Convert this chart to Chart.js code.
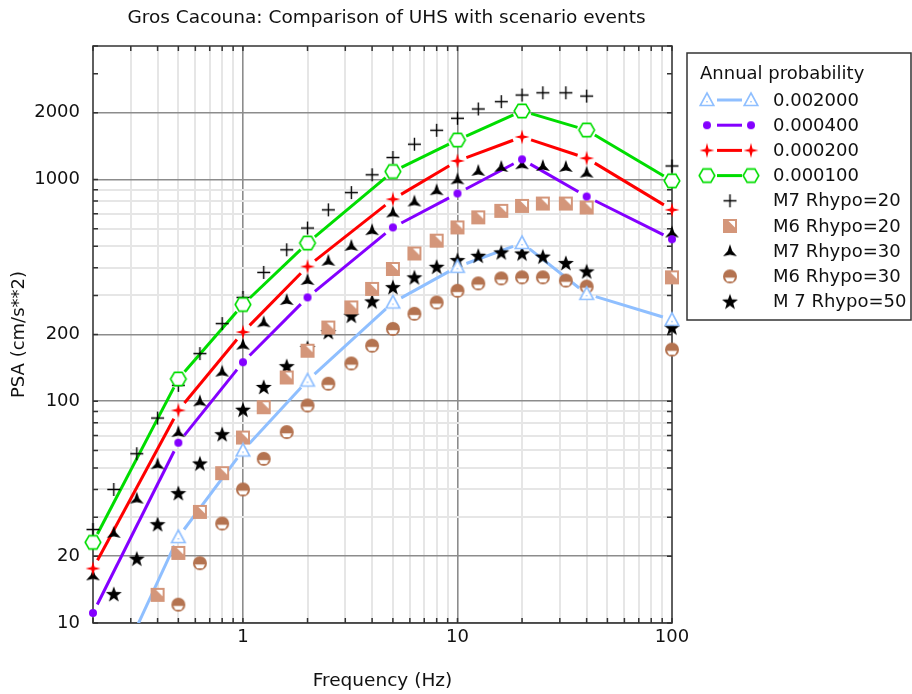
<!DOCTYPE html>
<html>
<head>
<meta charset="utf-8">
<script src="https://cdn.jsdelivr.net/npm/chart.js@4.4.0/dist/chart.umd.min.js"></script>
<style>
  body { margin: 0; background: #fff; }
  #wrap { width: 912px; height: 694px; position: relative; }
</style>
</head>
<body>
<div id="wrap"><canvas id="chart"></canvas></div>
<script>
// UHS curves (annual probability), PSA in cm/s**2
const UHS_FREQ = [0.2, 0.5, 1, 2, 5, 10, 20, 40, 100];
const UHS_002000 = [3.6, 24.4, 60, 124, 279, 404, 517, 305, 233];
const UHS_000400 = [11.1, 65, 150, 294, 608, 865, 1233, 838, 538];
const UHS_000200 = [17.6, 91, 205, 405, 815, 1213, 1556, 1247, 730];
const UHS_000100 = [23.1, 126, 273, 517, 1086, 1507, 2037, 1671, 986];

// scenario events
const SCEN_FREQ = [0.2, 0.25, 0.32, 0.4, 0.5, 0.63, 0.8, 1, 1.25, 1.6, 2, 2.5, 3.2, 4, 5, 6.3, 8, 10, 12.5, 16, 20, 25, 32, 40, 100];
const M7_R20 = [26.4, 40, 58, 84, 118, 164, 224, 294, 381, 482, 604, 730, 873, 1050, 1256, 1443, 1667, 1888, 2080, 2244, 2404, 2461, 2461, 2377, 1151];
const M6_R20 = [null, null, null, 13.4, 20.7, 31.7, 47.4, 68.6, 94, 128, 169, 215, 265, 321, 395, 464, 530, 608, 675, 722, 760, 779, 779, 748, 362];
const M7_R30 = [16.4, 25.5, 36.4, 52, 72.6, 100, 136, 180, 227, 286, 352, 430, 502, 591, 710, 796, 895, 1002, 1094, 1140, 1172, 1151, 1140, 1074, 577];
const M6_R30 = [null, null, null, null, 12.1, 18.6, 28.1, 40, 55, 72.6, 95.7, 120, 148, 178, 212, 248, 279, 315, 340, 358, 362, 362, 350, 329, 171];
const M7_R50 = [null, 13.5, 19.5, 27.9, 38.5, 52.4, 71, 91.6, 116, 144, 174, 205, 243, 282, 327, 362, 404, 433, 453, 469, 464, 449, 420, 385, 215];

// axes
const X_GRID = [0.2, 0.3, 0.4, 0.5, 0.6, 0.7, 0.8, 0.9, 1, 2, 3, 4, 5, 6, 7, 8, 9, 10, 20, 30, 40, 50, 60, 70, 80, 90, 100];
const X_LABELS = [1, 10, 100];
const X_MAJOR = [1, 10];
const Y_GRID = [10, 20, 30, 40, 50, 60, 70, 80, 90, 100, 200, 300, 400, 500, 600, 700, 800, 900, 1000, 2000, 3000, 4000];
const Y_LABELS = [10, 20, 100, 200, 1000, 2000];
const Y_NOLINE = [3000, 4000];

const TITLE = 'Gros Cacouna: Comparison of UHS with scenario events';
const LEGEND_TITLE = 'Annual probability';
const FONT_FAMILY = '"DejaVu Sans", sans-serif';
const FONT_SIZE = 18;

const has = (arr, v) => arr.some(a => Math.abs(a - v) / a < 1e-6);
const pts = (xs, ys) => xs.map((x, i) => ({x: x, y: ys[i]})).filter(p => p.y !== null);

// ---- marker images ----
function marker(w, h, draw) {
    const c = document.createElement('canvas');
    c.width = w; c.height = h;
    const g = c.getContext('2d');
    g.translate(w / 2, h / 2);
    draw(g);
    return c;
}
function starPath(g, n, ro, ri) {
    g.beginPath();
    for (let k = 0; k < n * 2; k++) {
        const r = k % 2 ? ri : ro;
        const a = -Math.PI / 2 + k * Math.PI / n;
        const x = r * Math.cos(a), y = r * Math.sin(a);
        k ? g.lineTo(x, y) : g.moveTo(x, y);
    }
    g.closePath();
}

const mkTriangle = marker(18, 18, g => {
    g.strokeStyle = '#8fbfff'; g.lineWidth = 1.6; g.fillStyle = '#fff';
    g.beginPath(); g.moveTo(0, -7); g.lineTo(6.8, 5.5); g.lineTo(-6.8, 5.5); g.closePath();
    g.fill(); g.stroke();
    g.fillStyle = '#8fbfff'; g.fillRect(-0.7, 1, 1.4, 1.4);
});
const mkDot = marker(12, 12, g => {
    g.fillStyle = '#8400ff';
    g.beginPath(); g.arc(0, 0, 4, 0, Math.PI * 2); g.fill();
});
const mkRedStar = marker(18, 18, g => {
    g.fillStyle = '#ff0000';
    starPath(g, 4, 7.5, 2.2);
    g.fill();
});
const mkHex = marker(20, 18, g => {
    g.strokeStyle = '#00dd00'; g.lineWidth = 1.6; g.fillStyle = '#fff';
    g.beginPath();
    g.moveTo(-7.8, 0); g.lineTo(-3.9, -6.6); g.lineTo(3.9, -6.6); g.lineTo(7.8, 0); g.lineTo(3.9, 6.6); g.lineTo(-3.9, 6.6);
    g.closePath(); g.fill(); g.stroke();
});
const mkPlus = marker(15, 15, g => {
    g.strokeStyle = '#000'; g.lineWidth = 1.4;
    g.beginPath(); g.moveTo(-6.5, 0); g.lineTo(6.5, 0); g.moveTo(0, -6.5); g.lineTo(0, 6.5); g.stroke();
});
const mkHalfSquare = marker(16, 16, g => {
    g.fillStyle = '#d4967a';
    g.fillRect(-7, -7, 14, 14);
    g.fillStyle = '#fff';
    g.beginPath(); g.moveTo(-1.5, -5); g.lineTo(5, -5); g.lineTo(5, 1.5); g.closePath(); g.fill();
});
const mkTri = marker(18, 18, g => {
    g.fillStyle = '#000';
    g.translate(0, 1);
    starPath(g, 3, 8, 2.6);
    g.fill();
});
const mkHelmet = marker(16, 16, g => {
    g.fillStyle = '#b47350';
    g.beginPath(); g.arc(0, 0, 7, 0, Math.PI * 2); g.fill();
    g.fillStyle = '#fff';
    g.beginPath(); g.moveTo(-5, 1.2); g.lineTo(5, 1.2); g.lineTo(3, 5); g.lineTo(-3, 5); g.closePath(); g.fill();
});
const mkStar = marker(20, 20, g => {
    g.fillStyle = '#000';
    g.translate(0, 0.6);
    starPath(g, 5, 8.4, 3.4);
    g.fill();
});

function uhsSet(label, ys, color, style) {
    return { label: label, data: pts(UHS_FREQ, ys), gapColor: color, pointStyle: style };
}
function scenSet(label, ys, style) {
    return { label: label, data: pts(SCEN_FREQ, ys), pointStyle: style };
}

const datasets = [
    uhsSet('0.002000', UHS_002000, '#8fbfff', mkTriangle),
    uhsSet('0.000400', UHS_000400, '#8400ff', mkDot),
    uhsSet('0.000200', UHS_000200, '#ff0000', mkRedStar),
    uhsSet('0.000100', UHS_000100, '#00dd00', mkHex),
    scenSet('M7 Rhypo=20', M7_R20, mkPlus),
    scenSet('M6 Rhypo=20', M6_R20, mkHalfSquare),
    scenSet('M7 Rhypo=30', M7_R30, mkTri),
    scenSet('M6 Rhypo=30', M6_R30, mkHelmet),
    scenSet('M 7 Rhypo=50', M7_R50, mkStar)
];

// frame round the plot with small inward ticks
const framePlugin = {
    id: 'frame',
    beforeDatasetsDraw(chart) {
        const {ctx, chartArea: a, scales} = chart;
        ctx.save();
        ctx.strokeStyle = '#333';
        ctx.lineWidth = 1.5;
        ctx.beginPath();
        Y_GRID.forEach(v => {
            const y = scales.y.getPixelForValue(v);
            ctx.moveTo(a.left, y); ctx.lineTo(a.left + 5, y);
            ctx.moveTo(a.right, y); ctx.lineTo(a.right - 5, y);
        });
        X_GRID.forEach(v => {
            const x = scales.x.getPixelForValue(v);
            ctx.moveTo(x, a.top); ctx.lineTo(x, a.top + 5);
            ctx.moveTo(x, a.bottom); ctx.lineTo(x, a.bottom - 5);
        });
        ctx.stroke();
        ctx.strokeRect(a.left, a.top, a.right - a.left, a.bottom - a.top);
        ctx.restore();
    }
};

// UHS lines with gaps around the markers
const GAP = 9.5;
const gapLinePlugin = {
    id: 'gapLines',
    beforeDatasetsDraw(chart) {
        const {ctx, chartArea: a} = chart;
        ctx.save();
        ctx.beginPath();
        ctx.rect(a.left, a.top, a.right - a.left, a.bottom - a.top);
        ctx.clip();
        chart.data.datasets.forEach((ds, i) => {
            if (!ds.gapColor) return;
            const p = chart.getDatasetMeta(i).data;
            ctx.strokeStyle = ds.gapColor;
            ctx.lineWidth = 3;
            for (let k = 1; k < p.length; k++) {
                const dx = p[k].x - p[k - 1].x, dy = p[k].y - p[k - 1].y;
                const d = Math.hypot(dx, dy);
                if (d <= 2 * GAP) continue;
                const ux = dx / d, uy = dy / d;
                ctx.beginPath();
                ctx.moveTo(p[k - 1].x + ux * GAP, p[k - 1].y + uy * GAP);
                ctx.lineTo(p[k].x - ux * GAP, p[k].y - uy * GAP);
                ctx.stroke();
            }
        });
        ctx.restore();
    }
};

// title and boxed legend
const decorPlugin = {
    id: 'decor',
    afterDraw(chart) {
        const {ctx, chartArea: a} = chart;
        ctx.save();
        ctx.fillStyle = '#111';
        ctx.textBaseline = 'middle';
        ctx.textAlign = 'center';
        ctx.font = '18.5px ' + FONT_FAMILY;
        ctx.fillText(TITLE, (a.left + a.right) / 2 + 4, 18);

        ctx.font = FONT_SIZE + 'px ' + FONT_FAMILY;
        ctx.strokeStyle = '#333';
        ctx.lineWidth = 1.5;
        ctx.strokeRect(687, 53, 224, 267);
        ctx.textAlign = 'left';
        ctx.fillText(LEGEND_TITLE, 700, 74);
        chart.data.datasets.forEach((ds, i) => {
            const y = 100 + i * 25.2;
            const img = ds.pointStyle;
            if (ds.gapColor) {
                ctx.strokeStyle = ds.gapColor;
                ctx.lineWidth = 3;
                ctx.beginPath(); ctx.moveTo(717, y); ctx.lineTo(742, y); ctx.stroke();
                ctx.drawImage(img, 707 - img.width / 2, y - img.height / 2);
                ctx.drawImage(img, 751 - img.width / 2, y - img.height / 2);
            } else {
                ctx.drawImage(img, 730 - img.width / 2, y - img.height / 2);
            }
            ctx.fillText(ds.label, 773, y + 1);
        });
        ctx.restore();
    }
};

new Chart(document.getElementById('chart'), {
    type: 'scatter',
    data: { datasets: datasets },
    options: {
        responsive: true,
        maintainAspectRatio: false,
        animation: false,
        events: [],
        clip: false,
        layout: { padding: { top: 46, right: 240, bottom: 0, left: 0 } },
        plugins: { legend: { display: false }, tooltip: { enabled: false }, title: { display: false } },
        scales: {
            x: {
                type: 'logarithmic',
                min: 0.2, max: 100,
                afterBuildTicks: s => { s.ticks = X_GRID.map(v => ({value: v})); },
                afterFit: s => { s.height = 71; },
                border: { display: false },
                grid: {
                    drawTicks: false,
                    lineWidth: c => has(X_MAJOR, c.tick.value) ? 1.6 : 2,
                    color: c => has(X_MAJOR, c.tick.value) ? '#8c8c8c' : '#e6e6e6'
                },
                ticks: {
                    autoSkip: false, maxRotation: 0, padding: 4, color: '#111',
                    font: { family: FONT_FAMILY, size: FONT_SIZE },
                    callback: v => has(X_LABELS, v) ? String(v) : ''
                },
                title: {
                    display: true, text: 'Frequency (Hz)', color: '#111',
                    font: { family: FONT_FAMILY, size: 18.5 },
                    padding: { top: 0, bottom: 2 }
                }
            },
            y: {
                type: 'logarithmic',
                min: 10, max: 4000,
                afterBuildTicks: s => { s.ticks = Y_GRID.map(v => ({value: v})); },
                afterFit: s => { s.width = 93; },
                border: { display: false },
                grid: {
                    drawTicks: false,
                    lineWidth: c => has(Y_LABELS, c.tick.value) ? 1.6 : 2,
                    color: c => has(Y_NOLINE, c.tick.value) ? 'rgba(0,0,0,0)' :
                        (has(Y_LABELS, c.tick.value) ? '#8c8c8c' : '#e6e6e6')
                },
                ticks: {
                    autoSkip: false, padding: 13, color: '#111',
                    font: { family: FONT_FAMILY, size: FONT_SIZE },
                    callback: v => has(Y_LABELS, v) ? String(v) : ''
                },
                title: {
                    display: true, text: 'PSA (cm/s**2)', color: '#111',
                    font: { family: FONT_FAMILY, size: FONT_SIZE },
                    padding: { top: 9, bottom: 0 }
                }
            }
        }
    },
    plugins: [framePlugin, gapLinePlugin, decorPlugin]
});
</script>
</body>
</html>
